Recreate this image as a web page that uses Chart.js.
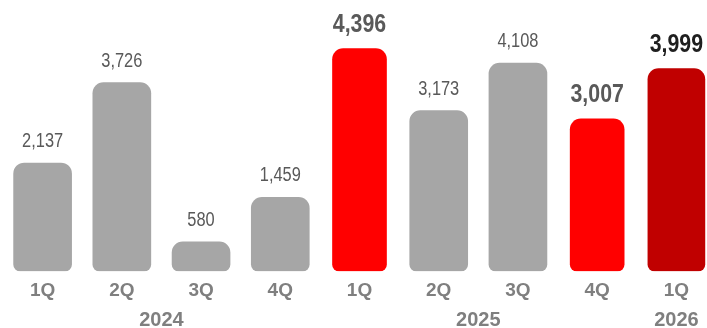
<!DOCTYPE html>
<html>
<head>
<meta charset="utf-8">
<script src="https://cdn.jsdelivr.net/npm/chart.js@4/dist/chart.umd.min.js"></script>
<style>
  html, body { margin: 0; padding: 0; background: #fff; overflow: hidden; }
  #wrap { width: 720px; height: 328px; }
</style>
</head>
<body>
<div id="wrap"><canvas id="c" width="720" height="328"></canvas></div>
<script>
// Quarterly results, 1Q 2024 – 1Q 2026
const quarters = ['1Q', '2Q', '3Q', '4Q', '1Q', '2Q', '3Q', '4Q', '1Q'];
const values = [2137, 3726, 580, 1459, 4396, 3173, 4108, 3007, 3999];
// bar style per quarter: 'base' grey, 'hi' red, 'latest' dark red
const kinds = ['base', 'base', 'base', 'base', 'hi', 'base', 'base', 'hi', 'latest'];
// year captions: label, first and last quarter index
const years = [['2024', 0, 3], ['2025', 4, 7], ['2026', 8, 8]];

const SANS = "'Liberation Sans', Arial, sans-serif";
// value labels use a condensed face: Liberation Sans squeezed horizontally
const CONDENSE = 0.82;

const styles = {
  base:   { color: '#a6a6a6', width: 58, font: '20px ' + SANS,      text: '#595959', gap: 16 },
  hi:     { color: '#ff0000', width: 54, font: 'bold 26px ' + SANS, text: '#595959', gap: 17 },
  latest: { color: '#c00000', width: 57, font: 'bold 26px ' + SANS, text: '#1f1f1f', gap: 17 }
};

const datasets = Object.keys(styles).map(k => ({
  kind: k,
  data: values.map((v, i) => kinds[i] === k ? v : null),
  backgroundColor: styles[k].color,
  barThickness: styles[k].width,
  borderWidth: 0,
  borderSkipped: false,
  borderRadius: { topLeft: 11, topRight: 11, bottomLeft: 7, bottomRight: 7 },
  grouped: false
}));

const fmt = v => v.toLocaleString('en-US');

const valueLabels = {
  id: 'valueLabels',
  afterDatasetsDraw(chart) {
    const ctx = chart.ctx;
    const y = chart.scales.y;
    const x = chart.scales.x;
    values.forEach((v, i) => {
      const s = styles[kinds[i]];
      ctx.save();
      ctx.font = s.font;
      ctx.fillStyle = s.text;
      ctx.textAlign = 'center';
      ctx.textBaseline = 'alphabetic';
      ctx.translate(x.getPixelForValue(i), y.getPixelForValue(v) - s.gap);
      ctx.scale(CONDENSE, 1);
      ctx.fillText(fmt(v), 0, 0);
      ctx.restore();
    });
  }
};

const yearLabels = {
  id: 'yearLabels',
  afterDraw(chart) {
    const ctx = chart.ctx;
    const x = chart.scales.x;
    ctx.save();
    ctx.font = 'bold 20px ' + SANS;
    ctx.fillStyle = '#7f7f7f';
    ctx.textAlign = 'center';
    ctx.textBaseline = 'alphabetic';
    years.forEach(([label, a, b]) => {
      const cx = (x.getPixelForValue(a) + x.getPixelForValue(b)) / 2;
      ctx.fillText(label, cx, 326);
    });
    ctx.restore();
  }
};

new Chart(document.getElementById('c'), {
  type: 'bar',
  data: { labels: quarters, datasets },
  options: {
    responsive: false,
    animation: false,
    layout: { padding: { left: 3, right: 4, top: 18, bottom: 18 } },
    plugins: { legend: { display: false }, tooltip: { enabled: false } },
    scales: {
      x: {
        grid: { display: false, drawTicks: false },
        border: { display: false },
        ticks: {
          color: '#7f7f7f',
          font: { family: SANS, size: 19, weight: 'bold' },
          padding: 8,
          maxRotation: 0,
          autoSkip: false
        }
      },
      y: {
        display: false,
        min: 0,
        max: 5000
      }
    }
  },
  plugins: [valueLabels, yearLabels]
});
</script>
</body>
</html>
